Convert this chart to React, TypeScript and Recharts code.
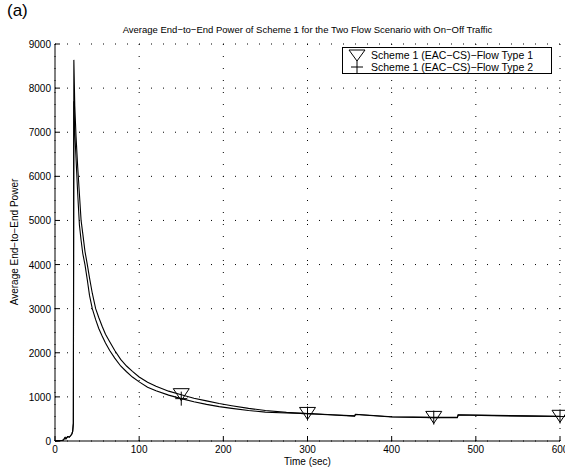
import React from "react";
import { LineChart, Line, XAxis, YAxis, CartesianGrid } from "recharts";

// time samples (sec)
const TIMES = [
  0, 4, 8, 10, 12, 13, 15, 17, 19, 20, 21, 21.8, 22.4, 23.5, 25, 27, 29, 31, 33, 35.6, 38.4, 41, 44.3,
  48.3, 52, 56, 60, 65, 71, 78, 85, 92, 100, 110, 120, 135, 150, 165, 180, 195, 210, 230, 250, 275,
  300, 330, 356, 357, 400, 450, 478, 479, 520, 560, 600,
];

// Scheme 1 (EAC-CS) - Flow Type 1 (upper curve, triangle markers)
const FLOW_1 = [
  0, 5, 10, 20, 80, 50, 100, 90, 130, 160, 220, 400, 8640, 7600, 6900, 6200, 5600, 5000, 4700, 4300,
  4000, 3700, 3350, 3000, 2800, 2600, 2420, 2250, 2050, 1850, 1700, 1580, 1450, 1330, 1240, 1130,
  1050, 970, 910, 850, 800, 740, 690, 650, 625, 595, 570, 605, 550, 535, 535, 595, 580, 570, 560,
];

// Scheme 1 (EAC-CS) - Flow Type 2 (lower curve, plus markers)
const FLOW_2 = [
  0, 5, 10, 20, 80, 50, 100, 90, 130, 160, 220, 400, 7700, 7000, 6400, 5600, 4900, 4550, 4250, 4000,
  3650, 3300, 3000, 2750, 2550, 2380, 2220, 2050, 1880, 1700, 1570, 1450, 1340, 1220, 1140, 1040,
  960, 890, 830, 780, 740, 690, 655, 635, 620, 590, 565, 600, 545, 530, 530, 590, 575, 565, 555,
];

const MARKER_TIMES = [150, 300, 450, 600];
const X_TICKS = [0, 100, 200, 300, 400, 500, 600];
const Y_TICKS = [0, 1000, 2000, 3000, 4000, 5000, 6000, 7000, 8000, 9000];

const TITLE = "Average End\u2212to\u2212End Power of Scheme 1 for the Two Flow Scenario with On\u2212Off Traffic";
const LEGEND = ["Scheme 1 (EAC\u2212CS)\u2212Flow Type 1", "Scheme 1 (EAC\u2212CS)\u2212Flow Type 2"];

const FONT = "'Liberation Sans', Arial, Helvetica, sans-serif";

const data = TIMES.map((t, i) => ({ t, f1: FLOW_1[i], f2: FLOW_2[i] }));

const BottomTick = ({ x, y, payload }: any) => (
  <g>
    <line x1={x} x2={x} y1={y} y2={y - 5} stroke="#000" />
    <text x={x} y={y + 12} textAnchor="middle" fontSize={10} fontFamily={FONT} fill="#000">
      {payload.value}
    </text>
  </g>
);

const TopTick = ({ x, y }: any) => <line x1={x} x2={x} y1={y} y2={y + 5} stroke="#000" />;

const LeftTick = ({ x, y, payload }: any) => (
  <g>
    <line x1={x} x2={x + 5} y1={y} y2={y} stroke="#000" />
    <text x={x - 4} y={y + 4} textAnchor="end" fontSize={10} fontFamily={FONT} fill="#000">
      {payload.value}
    </text>
  </g>
);

const RightTick = ({ x, y }: any) => <line x1={x} x2={x - 5} y1={y} y2={y} stroke="#000" />;

const TriangleDot = (props: any) => {
  const { cx, cy, payload, index } = props;
  if (!MARKER_TIMES.includes(payload.t)) return <g key={`t${index}`} />;
  return (
    <path
      key={`t${index}`}
      d={`M${cx - 8},${cy - 6} L${cx + 8},${cy - 6} L${cx},${cy + 6} Z`}
      fill="none"
      stroke="#000"
      strokeWidth={1}
    />
  );
};

const PlusDot = (props: any) => {
  const { cx, cy, payload, index } = props;
  if (!MARKER_TIMES.includes(payload.t)) return <g key={`p${index}`} />;
  return (
    <path
      key={`p${index}`}
      d={`M${cx - 6},${cy} L${cx + 6},${cy} M${cx},${cy - 7} L${cx},${cy + 7}`}
      stroke="#000"
      strokeWidth={1}
    />
  );
};

export default function App() {
  return (
    <div style={{ position: "relative", width: 565, height: 471, background: "#fff", fontFamily: FONT }}>
      <style>{"body{margin:0}"}</style>
      <LineChart width={565} height={471} data={data} margin={{ top: 44, right: 5, left: 0, bottom: 0 }}>
        <CartesianGrid stroke="#000" strokeDasharray="1 11" horizontalValues={Y_TICKS} verticalValues={X_TICKS} />
        <XAxis
          dataKey="t"
          type="number"
          domain={[0, 600]}
          ticks={X_TICKS}
          height={30}
          tickSize={0}
          tickMargin={0}
          tick={<BottomTick />}
          stroke="#000"
          interval={0}
        />
        <XAxis
          xAxisId="top"
          orientation="top"
          dataKey="t"
          type="number"
          domain={[0, 600]}
          ticks={X_TICKS}
          height={0}
          tickSize={0}
          tickMargin={0}
          tick={<TopTick />}
          stroke="#000"
          interval={0}
        />
        <YAxis
          type="number"
          domain={[0, 9000]}
          ticks={Y_TICKS}
          width={55}
          tickSize={0}
          tickMargin={0}
          tick={<LeftTick />}
          stroke="#000"
          interval={0}
        />
        <YAxis
          yAxisId="right"
          orientation="right"
          type="number"
          domain={[0, 9000]}
          ticks={Y_TICKS}
          width={0}
          tickSize={0}
          tickMargin={0}
          tick={<RightTick />}
          stroke="#000"
          interval={0}
        />
        <Line
          type="linear"
          dataKey="f1"
          stroke="#000"
          strokeWidth={1.1}
          dot={TriangleDot}
          activeDot={false}
          isAnimationActive={false}
        />
        <Line
          type="linear"
          dataKey="f2"
          stroke="#000"
          strokeWidth={1.1}
          dot={PlusDot}
          activeDot={false}
          isAnimationActive={false}
        />
      </LineChart>

      <div style={{ position: "absolute", left: 7, top: 0, fontSize: 17, lineHeight: "22px" }}>(a)</div>
      <div
        style={{
          position: "absolute",
          left: 55,
          width: 505,
          top: 24,
          textAlign: "center",
          fontSize: 9.5,
          lineHeight: "12px",
          whiteSpace: "nowrap",
        }}
      >
        {TITLE}
      </div>
      <div
        style={{
          position: "absolute",
          left: 14,
          top: 242,
          fontSize: 10,
          whiteSpace: "nowrap",
          transform: "translate(-50%, -50%) rotate(-90deg)",
        }}
      >
        Average End{"\u2212"}to{"\u2212"}End Power
      </div>
      <div
        style={{
          position: "absolute",
          left: 55,
          width: 505,
          top: 456,
          textAlign: "center",
          fontSize: 10,
          lineHeight: "12px",
        }}
      >
        Time (sec)
      </div>

      <div
        style={{
          position: "absolute",
          left: 342,
          top: 47,
          width: 210,
          height: 27,
          border: "1px solid #000",
          background: "#fff",
          fontSize: 10.5,
          lineHeight: "12px",
          boxSizing: "border-box",
        }}
      >
        {LEGEND.map((label, i) => (
          <div key={label} style={{ display: "flex", alignItems: "center", height: 12, marginTop: i === 0 ? 1 : 0 }}>
            <svg width={28} height={12}>
              {i === 0 ? (
                <path d="M6,1 L22,1 L14,12 Z" fill="none" stroke="#000" />
              ) : (
                <path d="M8,6 L20,6 M14,0 L14,12" stroke="#000" />
              )}
            </svg>
            <span>{label}</span>
          </div>
        ))}
      </div>
    </div>
  );
}
